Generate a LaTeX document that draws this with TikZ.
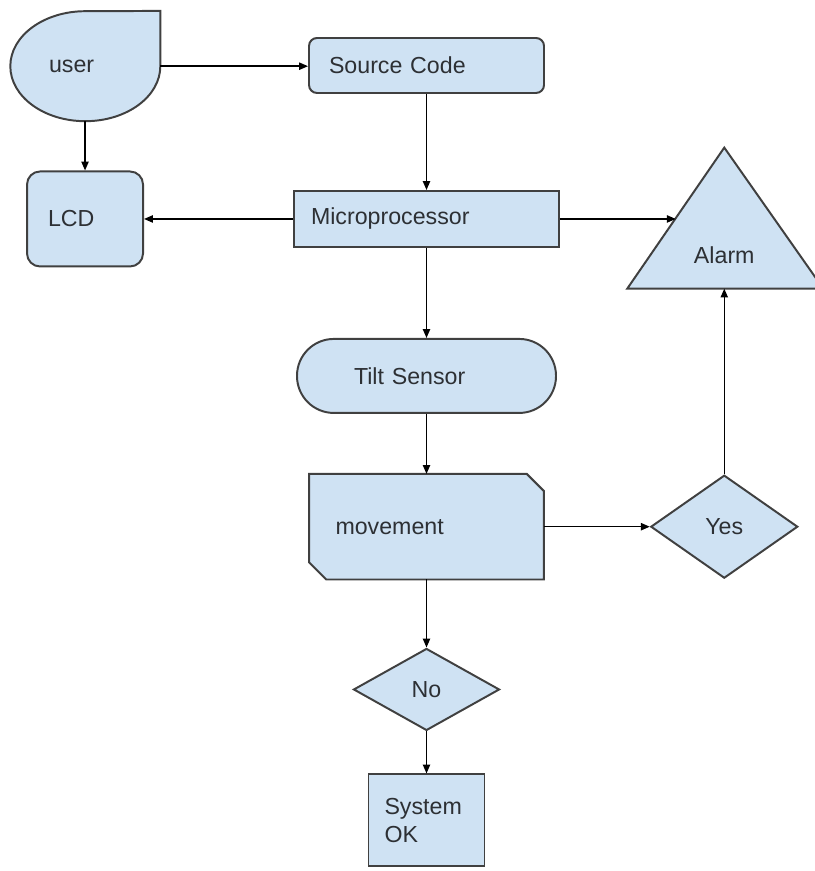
\documentclass[tikz,border=0pt]{standalone}
\usepackage{fontspec}
\setmainfont{Liberation Sans}
\usepackage{xcolor}
\usepackage{tikz}
\usetikzlibrary{arrows.meta,positioning,calc,shapes.geometric,backgrounds}
\definecolor{boxfill}{RGB}{207,226,243}
\definecolor{boxline}{RGB}{64,64,64}
\definecolor{inktext}{RGB}{45,48,52}

\begin{document}
\begin{tikzpicture}[
  font={\fontsize{16.5}{19.5}\selectfont},
  text=inktext,
  base/.style={draw=boxline,line width=1.4pt,fill=boxfill},
  proc/.style={base,align=left,inner ysep=0pt},
  rbox/.style={proc,rounded corners=0.2cm},
  pill/.style={proc,rounded corners=0.92cm},
  dec/.style={base,diamond,inner sep=0pt},
  bare/.style={align=left,inner ysep=0pt},
  arr/.style={-{Triangle[length=2.2mm,width=1.8mm]},line width=1pt,black},
]
\useasboundingbox (0,0) rectangle (20.35,-21.775);
% Main column
\node[rbox,minimum width=5.875cm,minimum height=1.375cm,text width=4.875cm,inner xsep=0.5cm] (src) at (10.6625,-1.6375) {Source Code};
\node[proc,below=2.4cm of src,minimum width=6.625cm,minimum height=1.4cm,text width=5.775cm,inner xsep=0.425cm] (micro) {Microprocessor};
\node[pill,below=2.25cm of micro,minimum width=6.475cm,minimum height=1.85cm,text width=3.625cm,inner xsep=1.425cm] (tilt) {Tilt Sensor};
\node[bare,below=1.5cm of tilt,minimum width=5.85cm,minimum height=2.625cm,text width=4.55cm,inner xsep=0.65cm] (move) {movement};
\node[dec,below=1.7cm of move,minimum width=3.65cm,minimum height=2.05cm] (no) {No};
\node[proc,below=1.05cm of no,minimum width=2.9cm,minimum height=2.3cm,text width=2.1cm,inner xsep=0.4cm] (ok) {System\\OK};
% Left side
\node[rbox,rounded corners=0.325cm,left=3.725cm of micro,minimum width=2.9cm,minimum height=2.375cm,text width=1.85cm,inner xsep=0.525cm] (lcd) {LCD};
\node[bare,above=1.225cm of lcd,minimum width=3.75cm,minimum height=2.75cm,text width=1.8cm,inner xsep=0.975cm] (user) {user};
% Right side
\node[dec,right=2.65cm of move,minimum width=3.675cm,minimum height=2.575cm] (yes) {Yes};
\coordinate[above=4.64cm of yes.north] (alarmbase);
\coordinate (alarmtop) at ([yshift=3.525cm]alarmbase);
\coordinate (alarmL) at ([xshift=-2.425cm]alarmbase);
\coordinate (alarmR) at ([xshift=2.475cm]alarmbase);
\coordinate (alarmin) at ($(alarmtop)!.5!(alarmL)$);
\node (alarm) at ([yshift=0.825cm]alarmbase) {Alarm};
% shapes behind the text
\begin{scope}[on background layer]
\draw[base] (user.north east) -- (user.east) arc[start angle=0,end angle=-270,x radius=1.875cm,y radius=1.375cm] -- cycle;
\draw[base] (move.north west) -- ([xshift=-0.425cm]move.north east) -- ([yshift=-0.425cm]move.north east)
  -- (move.south east) -- ([xshift=0.425cm]move.south west) -- ([yshift=0.425cm]move.south west) -- cycle;
\draw[base] (alarmtop) -- (alarmL) -- (alarmR) -- cycle;
\end{scope}
% arrows
\draw[arr] (user.east) -- (user.east -| src.west);
\draw[arr] (user.south) -- (lcd.north);
\draw[arr] (src) -- (micro);
\draw[arr] (micro.west) -- (lcd.east);
\draw[arr] (micro.east) -- (micro.east -| alarmin);
\draw[arr] (micro) -- (tilt);
\draw[arr] (tilt) -- (move);
\draw[arr] (move) -- (yes);
\draw[arr] (yes) -- (yes.north |- alarmbase);
\draw[arr] (move) -- (no);
\draw[arr] (no) -- (ok);
\end{tikzpicture}
\end{document}
